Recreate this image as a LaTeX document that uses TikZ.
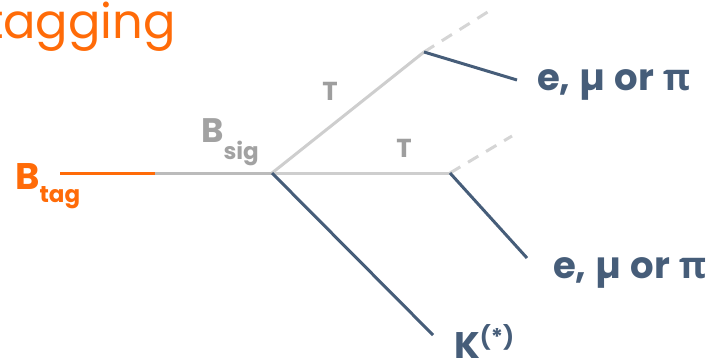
\documentclass[tikz,border=0pt]{standalone}
\usepackage{fontspec}
\setmainfont{Poppins}
\newfontfamily\greekfont{Open Sans}
\usepackage{xcolor}
\usepackage{tikz}
\usetikzlibrary{positioning, calc}
\definecolor{btOrange}{HTML}{FF6B08}
\definecolor{btBlue}{HTML}{465D79}
\definecolor{btSig}{HTML}{BBBBBB}
\definecolor{btSigText}{HTML}{A2A2A2}
\definecolor{btTau}{HTML}{CECECE}
\definecolor{btTauText}{HTML}{9E9E9E}
\newcommand{\btsub}[3]{#1\raisebox{-#3pt}{\fontsize{23}{23}\selectfont #2}}
\newcommand{\btpi}{{\greekfont\bfseries π}}
\newcommand{\btlep}{e,\hspace{9pt}µ\hspace{9pt}or\hspace{9pt}\btpi}
\tikzset{
  bt-track/.style={line width=3pt, line cap=butt},
  bt-tag/.style={bt-track, draw=btOrange},
  bt-sig/.style={bt-track, draw=btSig},
  bt-tau/.style={bt-track, draw=btTau},
  bt-nu/.style={bt-track, draw=btTau!85, dash pattern=on 12pt off 9pt},
  bt-vis/.style={bt-track, draw=btBlue},
  bt-lbl/.style={inner sep=0pt, text=btBlue, font=\fontsize{37}{37}\selectfont\bfseries},
  bt-tau-lbl/.style={inner sep=0pt, text=btTauText, font=\fontsize{26}{26}\selectfont\bfseries},
}

\begin{document}
\begin{tikzpicture}[x=1pt, y=-1pt]
  \useasboundingbox (0,0) rectangle (713,362);
  \clip (0,0) rectangle (713,362);

  % title, cut at the left edge
  \node[inner sep=0pt, anchor=base east, text=btOrange, font=\fontsize{48}{48}\selectfont] (title) at (176,38) {tagging};

  % vertices
  \coordinate (tagend)  at (60,173);
  \coordinate (sigbeg)  at (155,173);
  \coordinate (vtx)     at (272,173);
  \coordinate (tauA)    at (424,52);
  \coordinate (tauB)    at (450,173);
  \coordinate (nuA)     at (494,8);
  \coordinate (nuB)     at (512,136);
  \coordinate (lepA)    at (517,80);
  \coordinate (lepB)    at (527,258);
  \coordinate (kaon)    at (433,335);

  % labels
  \node[bt-lbl, anchor=base west, text=btOrange] (btag) at (15,189) {\btsub{B}{tag}{13}};
  \node[bt-lbl, anchor=base west, text=btSigText, font=\fontsize{34}{34}\selectfont\bfseries] (bsig) at (201,142) {\btsub{B}{sig}{17}};
  \node[bt-tau-lbl, anchor=base] (tlA) at (330,100) {T};
  \node[bt-tau-lbl, anchor=base] (tlB) at (404,157) {T};
  \node[bt-lbl, anchor=base west] (lblA) at (537,90) {\btlep};
  \node[bt-lbl, anchor=base west] (lblB) at (553,278) {\btlep};
  \node[bt-lbl, anchor=base west] (lblK) at (454,358) {K\raisebox{13pt}{\fontsize{23}{23}\selectfont(*)}};

  % tracks
  \draw[bt-tag] (tagend) -- (sigbeg);
  \draw[bt-sig] (sigbeg) -- (vtx);
  \draw[bt-tau] (vtx) -- (tauA);
  \draw[bt-tau] (vtx) -- (tauB);
  \draw[bt-nu]  (tauA) -- (nuA);
  \draw[bt-nu]  (tauB) -- (nuB);
  \draw[bt-vis] (tauA) -- (lepA);
  \draw[bt-vis] (tauB) -- (lepB);
  \draw[bt-vis] (vtx) -- (kaon);
\end{tikzpicture}
\end{document}
